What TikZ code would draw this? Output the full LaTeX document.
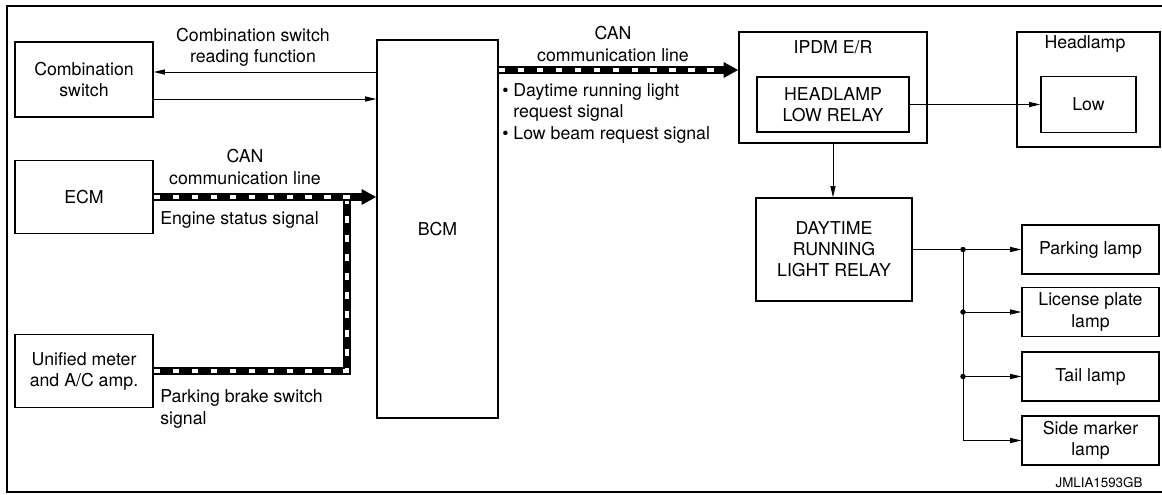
\documentclass[tikz,border=0pt]{standalone}
\usepackage{fontspec}
\setmainfont{TeX Gyre Heros}
\usetikzlibrary{arrows.meta}

\begin{document}
\begin{tikzpicture}[x=0.025cm,y=-0.025cm,
    font=\fontsize{12.6}{15}\selectfont,
    blk/.style={draw,line width=0.85pt,inner sep=0pt,align=center},
    lbl/.style={inner sep=0pt,align=center},
    sig/.style={line width=0.7pt,-{Triangle[length=8pt,width=3.6pt]}},
    canblack/.style={line width=5.3pt},
    canwhite/.style={white,line width=2.3pt,dash pattern=on 4.6pt off 8.9pt},
    canhead/.style={-{Triangle[length=10.5pt,width=10.5pt]}}]
    \useasboundingbox (0,0) rectangle (1162,494);
    \clip (0,0) rectangle (1162,494);
    \draw[line width=1.9pt] (1175,6) -- (7,6) -- (7,492) -- (1175,492);

    \node[blk,minimum width=3.45cm,minimum height=1.875cm] (comb) at (84,79.5) {Combination\\switch};
    \node[blk,minimum width=3.45cm,minimum height=1.825cm] (ecm) at (84,197) {ECM};
    \node[blk,minimum width=3.45cm,minimum height=1.825cm] (meter) at (84,371) {Unified meter\\and A/C amp.};
    \node[blk,minimum width=3.025cm,minimum height=9.45cm] (bcm) at (437.5,229) {BCM};

    \node[blk,minimum width=4.7cm,minimum height=2.775cm] (ipdm) at (833,87.5) {};
    \node[lbl] (ipdmlbl) at (833,47) {IPDM E/R};
    \node[blk,minimum width=3.8cm,minimum height=1.375cm] (hlr) at (833,104.5) {HEADLAMP\\LOW RELAY};
    \node[blk,minimum width=3.575cm,minimum height=2.875cm] (head) at (1088.5,89.5) {};
    \node[lbl] (headlbl) at (1085,44) {Headlamp};
    \node[blk,minimum width=2.375cm,minimum height=1.4cm] (low) at (1088.5,104.5) {Low};
    \node[blk,minimum width=3.9cm,minimum height=2.575cm] (drl) at (834,249.5) {DAYTIME\\RUNNING\\LIGHT RELAY};

    \node[blk,minimum width=3.425cm,minimum height=1.225cm] (park) at (1090.5,249.5) {Parking lamp};
    \node[blk,minimum width=3.425cm,minimum height=1.225cm] (lic) at (1090.5,312) {License plate\\lamp};
    \node[blk,minimum width=3.425cm,minimum height=1.225cm] (tail) at (1090.5,376.5) {Tail lamp};
    \node[blk,minimum width=3.425cm,minimum height=1.225cm] (side) at (1090.5,440.5) {Side marker\\lamp};

    \coordinate (cj) at (347,197);
    \coordinate (bus) at (963,249.5);
    \coordinate (busend) at (963,440.5);

    \draw[sig] (bcm.west |- 0,72) -- (comb.east |- 0,72);
    \draw[sig] (comb.east |- 0,99) -- (bcm.west |- 0,99);
    \node[lbl] (cslbl) at (253,47) {Combination switch\\reading function};

    \draw[canblack] (meter.east) -| (cj);
    \draw[canwhite] (meter.east) -| (cj);
    \draw[canblack,canhead] (ecm.east) -- (bcm.west |- ecm.east);
    \draw[canwhite,shorten >=11pt] (ecm.east) -- (bcm.west |- ecm.east);
    \node[lbl] (can1) at (245,167) {CAN\\communication line};
    \node[lbl,anchor=west] (englbl) at (160,220) {Engine status signal};
    \node[lbl,anchor=west,align=left] (pkblbl) at (160,409) {Parking brake switch\\signal};

    \draw[canblack,canhead] (bcm.east |- 0,70) -- (ipdm.west |- 0,70);
    \draw[canwhite,shorten >=11pt] (bcm.east |- 0,70) -- (ipdm.west |- 0,70);
    \node[lbl] (can2) at (613,44) {CAN\\communication line};
    \node[lbl,anchor=north west,align=left] (reqlbl) at (502,83) {• Daytime running light\\\phantom{• }request signal\\[1pt]• Low beam request signal};

    \draw[sig] (hlr.east) -- (hlr.east -| low.west);
    \draw[sig] (ipdm.south) -- (ipdm.south |- drl.north);

    \draw[line width=0.7pt] (drl.east) -- (bus) -- (busend);
    \draw[sig] (bus) -- (park.west);
    \draw[sig] (bus |- lic.west) -- (lic.west);
    \draw[sig] (bus |- tail.west) -- (tail.west);
    \draw[sig] (busend) -- (side.west);
    \filldraw (bus) circle (1.7pt);
    \filldraw (bus |- lic.west) circle (1.7pt);
    \filldraw (bus |- tail.west) circle (1.7pt);

    \node[lbl,font=\fontsize{9.5}{11}\selectfont] (code) at (1099,483) {JMLIA1593GB};
\end{tikzpicture}
\end{document}
